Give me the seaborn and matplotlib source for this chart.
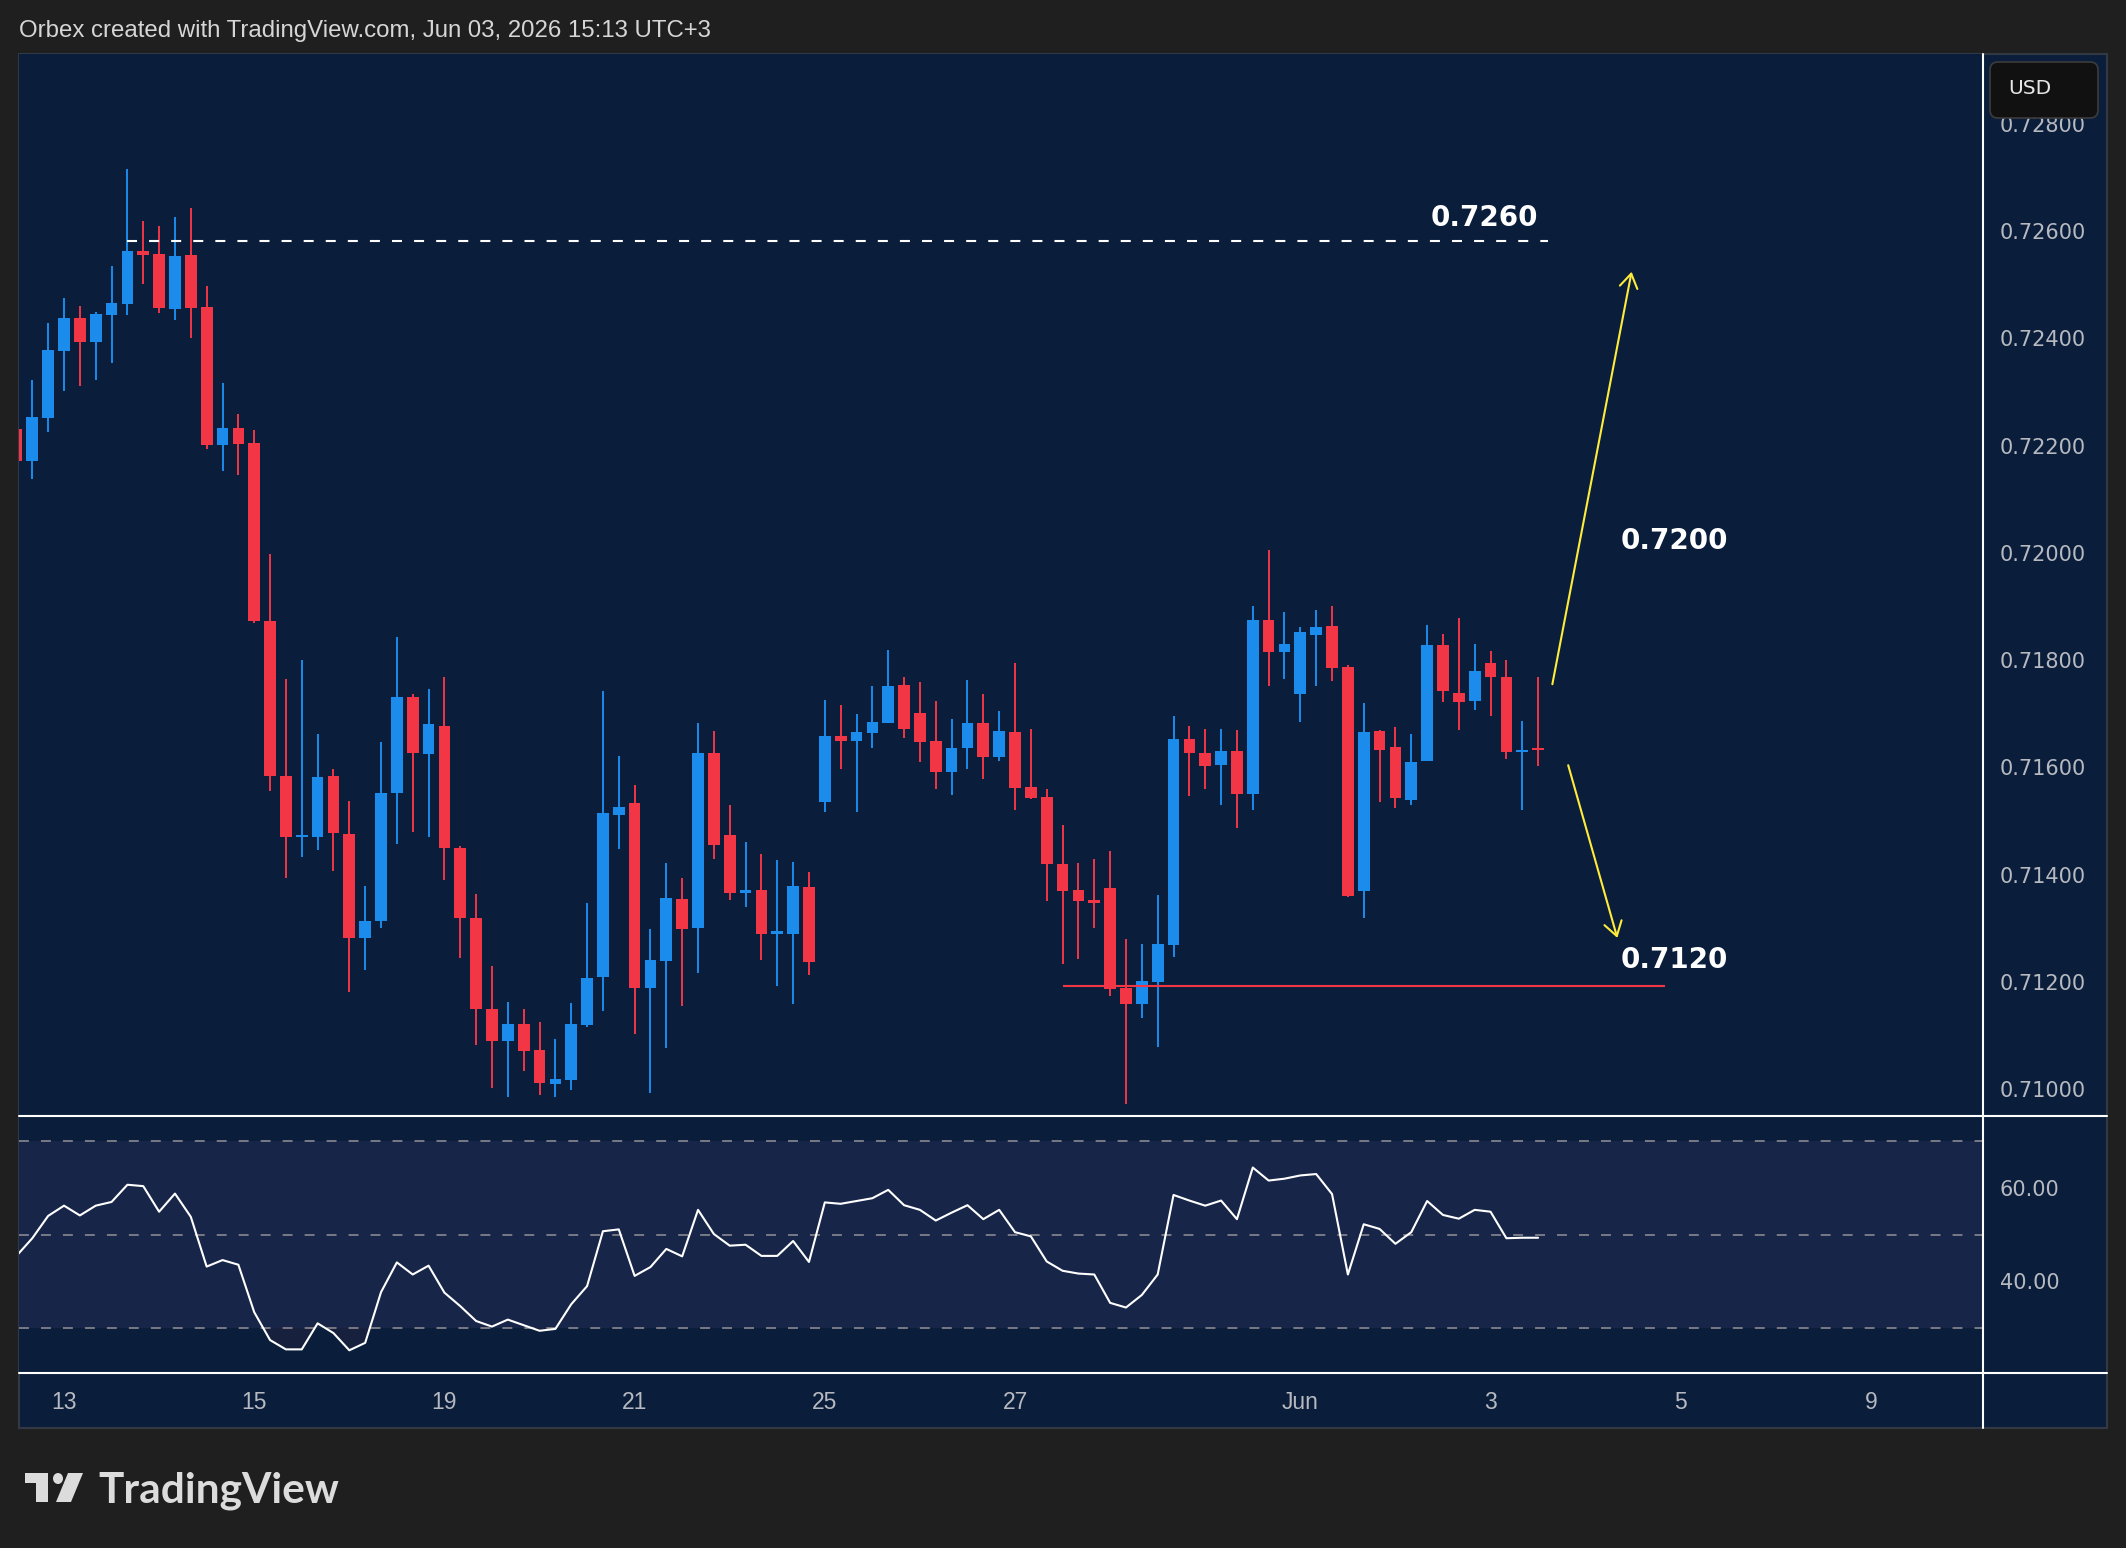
import numpy as np
import seaborn as sns
import matplotlib
matplotlib.use("Agg")
import matplotlib.pyplot as plt
from matplotlib import font_manager
from matplotlib.patches import Rectangle, FancyBboxPatch, Polygon, Ellipse

# 4H candles, bar 0 = May 13 00:00
bar_start = -3
opens = [0.72231, 0.72171, 0.72251, 0.72376, 0.72438, 0.72393, 0.72443, 0.72464, 0.72562, 0.72558,
         0.72455, 0.72555, 0.72459, 0.72201, 0.72232, 0.72204, 0.71872, 0.71583, 0.71471, 0.71471,
         0.71583, 0.71476, 0.71281, 0.71313, 0.71552, 0.71731, 0.71625, 0.71677, 0.71449, 0.71320,
         0.71150, 0.71089, 0.71122, 0.71073, 0.71010, 0.71017, 0.71120, 0.71210, 0.71512, 0.71533,
         0.71189, 0.71239, 0.71354, 0.71301, 0.71626, 0.71473, 0.71366, 0.71372, 0.71290, 0.71290,
         0.71377, 0.71535, 0.71658, 0.71649, 0.71664, 0.71682, 0.71753, 0.71701, 0.71649, 0.71591,
         0.71636, 0.71682, 0.71619, 0.71666, 0.71563, 0.71544, 0.71419, 0.71372, 0.71352, 0.71375,
         0.71189, 0.71159, 0.71200, 0.71269, 0.71653, 0.71627, 0.71605, 0.71630, 0.71551, 0.71875,
         0.71816, 0.71736, 0.71847, 0.71863, 0.71787, 0.71369, 0.71668, 0.71638, 0.71539, 0.71612,
         0.71828, 0.71739, 0.71724, 0.71794, 0.71769, 0.71629, 0.71637]
highs = [0.72240, 0.72322, 0.72428, 0.72475, 0.72460, 0.72449, 0.72534, 0.72716, 0.72618, 0.72609,
         0.72626, 0.72642, 0.72497, 0.72316, 0.72259, 0.72229, 0.71998, 0.71765, 0.71800, 0.71663,
         0.71597, 0.71537, 0.71378, 0.71647, 0.71843, 0.71737, 0.71746, 0.71769, 0.71453, 0.71364,
         0.71229, 0.71163, 0.71150, 0.71126, 0.71093, 0.71160, 0.71347, 0.71742, 0.71621, 0.71567,
         0.71298, 0.71421, 0.71393, 0.71682, 0.71668, 0.71530, 0.71461, 0.71438, 0.71427, 0.71423,
         0.71404, 0.71725, 0.71716, 0.71700, 0.71751, 0.71819, 0.71769, 0.71759, 0.71724, 0.71690,
         0.71763, 0.71737, 0.71705, 0.71794, 0.71671, 0.71560, 0.71493, 0.71422, 0.71429, 0.71444,
         0.71280, 0.71270, 0.71362, 0.71696, 0.71677, 0.71671, 0.71671, 0.71669, 0.71900, 0.72005,
         0.71890, 0.71861, 0.71893, 0.71900, 0.71790, 0.71720, 0.71669, 0.71675, 0.71662, 0.71866,
         0.71848, 0.71878, 0.71830, 0.71817, 0.71800, 0.71687, 0.71769]
lows = [0.72160, 0.72138, 0.72225, 0.72301, 0.72311, 0.72322, 0.72354, 0.72443, 0.72502, 0.72447,
        0.72434, 0.72400, 0.72194, 0.72152, 0.72145, 0.71869, 0.71555, 0.71393, 0.71432, 0.71445,
        0.71406, 0.71182, 0.71223, 0.71301, 0.71457, 0.71480, 0.71471, 0.71390, 0.71245, 0.71082,
        0.71003, 0.70985, 0.71034, 0.70990, 0.70985, 0.70999, 0.71116, 0.71146, 0.71448, 0.71103,
        0.70992, 0.71077, 0.71155, 0.71217, 0.71430, 0.71353, 0.71340, 0.71241, 0.71192, 0.71159,
        0.71213, 0.71517, 0.71597, 0.71517, 0.71637, 0.71682, 0.71655, 0.71610, 0.71560, 0.71548,
        0.71597, 0.71578, 0.71612, 0.71520, 0.71541, 0.71350, 0.71234, 0.71242, 0.71301, 0.71173,
        0.70973, 0.71133, 0.71079, 0.71247, 0.71547, 0.71559, 0.71529, 0.71487, 0.71521, 0.71752,
        0.71765, 0.71685, 0.71752, 0.71761, 0.71358, 0.71319, 0.71535, 0.71524, 0.71529, 0.71612,
        0.71722, 0.71669, 0.71707, 0.71696, 0.71616, 0.71521, 0.71603]
closes = [0.72171, 0.72253, 0.72378, 0.72438, 0.72393, 0.72446, 0.72466, 0.72562, 0.72556, 0.72456,
          0.72553, 0.72456, 0.72201, 0.72232, 0.72203, 0.71872, 0.71583, 0.71471, 0.71474, 0.71582,
          0.71478, 0.71281, 0.71313, 0.71552, 0.71731, 0.71626, 0.71681, 0.71449, 0.71320, 0.71150,
          0.71089, 0.71122, 0.71072, 0.71011, 0.71019, 0.71121, 0.71207, 0.71515, 0.71526, 0.71189,
          0.71241, 0.71356, 0.71299, 0.71626, 0.71455, 0.71366, 0.71372, 0.71290, 0.71294, 0.71379,
          0.71237, 0.71658, 0.71649, 0.71666, 0.71684, 0.71751, 0.71671, 0.71647, 0.71591, 0.71637,
          0.71682, 0.71619, 0.71668, 0.71562, 0.71543, 0.71419, 0.71369, 0.71350, 0.71348, 0.71186,
          0.71159, 0.71201, 0.71270, 0.71653, 0.71627, 0.71603, 0.71630, 0.71551, 0.71875, 0.71816,
          0.71830, 0.71852, 0.71861, 0.71786, 0.71360, 0.71666, 0.71633, 0.71542, 0.71610, 0.71828,
          0.71743, 0.71722, 0.71779, 0.71769, 0.71628, 0.71631, 0.71633]
rsi = [45.4, 49.2, 54.0, 56.2, 54.1, 56.2, 57.0, 60.7, 60.4, 54.9,
       58.8, 53.8, 43.1, 44.5, 43.5, 33.3, 27.3, 25.3, 25.3, 30.9,
       28.8, 25.1, 26.7, 37.6, 44.0, 41.4, 43.3, 37.5, 34.6, 31.4,
       30.2, 31.7, 30.5, 29.3, 29.7, 35.0, 38.9, 50.7, 51.1, 41.1,
       43.0, 46.9, 45.3, 55.3, 50.1, 47.6, 47.8, 45.4, 45.4, 48.6,
       44.1, 56.9, 56.6, 57.2, 57.8, 59.6, 56.3, 55.3, 53.0, 54.7,
       56.3, 53.3, 55.3, 50.5, 49.6, 44.2, 42.2, 41.6, 41.4, 35.3,
       34.3, 37.0, 41.4, 58.5, 57.3, 56.2, 57.3, 53.3, 64.4, 61.6,
       62.0, 62.7, 63.0, 58.7, 41.4, 52.2, 51.2, 48.0, 50.5, 57.2,
       54.2, 53.4, 55.3, 54.9, 49.2, 49.3, 49.3]

day_labels = ["13", "15", "19", "21", "25", "27", "Jun", "3", "5", "9"]
day_bars = [0, 12, 24, 36, 48, 60, 78, 90, 102, 114]
price_ticks = [0.710, 0.712, 0.714, 0.716, 0.718, 0.720, 0.722, 0.724, 0.726, 0.728]
rsi_ticks = [40, 60]
rsi_levels = [70, 50, 30]

resistance = 0.72581
resistance_span = (4, 93.6)
support = 0.71192
support_span = (63, 101)
level_labels = ["0.7260", "0.7200", "0.7120"]
level_label_x = [89.6, 101.6, 101.6]
level_label_y = [0.72624, 0.72022, 0.71241]
arrow_up = [(93.9, 0.71755), (98.9, 0.72524)]
arrow_down = [(94.9, 0.71604), (98.0, 0.71282)]

OUTER = "#1f1f1f"
PANEL = "#0a1e3b"
BAND = "#172548"
BLUE = "#1b8bec"
RED = "#f23645"
YELLOW = "#ffeb3b"
AXIS_TXT = "#b7b9c0"

W, H = 2126, 1548

sns.set_theme(style="dark")
installed = {f.name for f in font_manager.fontManager.ttflist}
UI_FONT = "Liberation Sans" if "Liberation Sans" in installed else "DejaVu Sans"
LOGO_FONT = "Lato" if "Lato" in installed else "DejaVu Sans"
plt.rcParams["font.family"] = ["DejaVu Sans"]

fig = plt.figure(figsize=(W / 100, H / 100), dpi=100, facecolor=OUTER)


def fbox(x0, y0, x1, y1):
    return [x0 / W, 1 - y1 / H, (x1 - x0) / W, (y1 - y0) / H]


# background frame (pixel coords)
bg = fig.add_axes([0, 0, 1, 1], zorder=-1)
bg.set_xlim(0, W)
bg.set_ylim(H, 0)
bg.axis("off")
bg.add_patch(Rectangle((19, 54), 2088, 1374, facecolor=PANEL, edgecolor="#343844", lw=1.5))

bars = np.arange(bar_start, bar_start + len(opens))
o = np.array(opens)
h = np.array(highs)
l = np.array(lows)
c = np.array(closes)
r = np.array(rsi)
xlim = (-2.84, 121.07)

# ---- price pane ----
ax = fig.add_axes(fbox(19, 54, 1983, 1116))
ax.set_facecolor(PANEL)
up = c >= o
cols = np.where(up, BLUE, RED)
ax.vlines(bars, l, h, colors=cols, linewidth=1.4, zorder=2)
body_lo = np.minimum(o, c)
body_h = np.abs(c - o)
min_h = 0.00003
body_lo = np.where(body_h < min_h, (o + c) / 2 - min_h / 2, body_lo)
body_h = np.maximum(body_h, min_h)
ax.bar(bars, body_h, bottom=body_lo, width=0.74, color=cols, linewidth=0, zorder=3)

ax.hlines(resistance, *resistance_span, colors="white", lw=1.5, linestyles=(0, (4.8, 5.8)), zorder=4)
ax.hlines(support, *support_span, colors=RED, lw=1.5, zorder=4)
for txt, tx, ty in zip(level_labels, level_label_x, level_label_y):
    ax.text(tx, ty, txt, ha="center", va="center", fontsize=20, fontweight="bold", color="white", zorder=5)
for start, tip in (arrow_up, arrow_down):
    ax.annotate("", xy=tip, xytext=start,
                arrowprops=dict(arrowstyle="->,head_length=0.5,head_width=0.32", color=YELLOW,
                                lw=1.5, shrinkA=0, shrinkB=0, mutation_scale=20), zorder=5)

ax.set_xlim(*xlim)
ax.set_ylim(0.70950, 0.72930)
ax.set_xticks([])
ax.yaxis.tick_right()
ax.set_yticks(price_ticks)
ax.set_yticklabels([f"{v:.5f}" for v in price_ticks])
ax.tick_params(axis="y", length=0, pad=12, labelsize=15, labelcolor=AXIS_TXT)
for s in ax.spines.values():
    s.set_visible(False)
ax.grid(False)

# ---- RSI pane ----
ax_rsi = fig.add_axes(fbox(19, 1116, 1983, 1373))
ax_rsi.set_facecolor(PANEL)
ax_rsi.axhspan(30, 70, color=BAND, lw=0, zorder=0)
for lv in rsi_levels:
    ax_rsi.axhline(lv, color="#787b86", lw=1.4, ls=(0, (5.1, 6.2)), zorder=1)
ax_rsi.fill_between(bars, r, 30, where=r < 30, interpolate=True, color="#b03a5a", alpha=0.08, lw=0, zorder=1)
sns.lineplot(x=bars, y=r, ax=ax_rsi, color="white", lw=1.5, zorder=3)
ax_rsi.set_xlim(*xlim)
ax_rsi.set_ylim(20.22, 75.48)
ax_rsi.yaxis.tick_right()
ax_rsi.set_yticks(rsi_ticks)
ax_rsi.set_yticklabels([f"{v:.2f}" for v in rsi_ticks])
ax_rsi.tick_params(axis="y", length=0, pad=12, labelsize=15, labelcolor=AXIS_TXT)
ax_rsi.set_xticks(day_bars)
ax_rsi.set_xticklabels(day_labels, family=UI_FONT)
ax_rsi.tick_params(axis="x", length=0, pad=13, labelsize=16.5, labelcolor=AXIS_TXT)
ax_rsi.set_xlabel("")
ax_rsi.set_ylabel("")
for s in ax_rsi.spines.values():
    s.set_visible(False)
ax_rsi.grid(False)

# ---- overlay: separators, currency box, header, logo ----
ov = fig.add_axes([0, 0, 1, 1], zorder=6)
ov.set_xlim(0, W)
ov.set_ylim(H, 0)
ov.axis("off")
ov.plot([19, 2107], [1116, 1116], color="white", lw=1.5)
ov.plot([19, 2107], [1373, 1373], color="white", lw=1.5)
ov.plot([1983, 1983], [54, 1428], color="white", lw=1.5)
ov.add_patch(FancyBboxPatch((1990, 62), 108, 56, boxstyle="round,pad=0,rounding_size=8",
                            facecolor="#111111", edgecolor="#3c3c3c", lw=1.2))
ov.text(2030, 89, "USD", ha="center", va="center", fontsize=14.5, color="#e6e6e6")

ov.text(19, 31, "Orbex created with TradingView.com, Jun 03, 2026 15:13 UTC+3", ha="left", va="center",
        fontsize=17.3, color="#d6d6d6", family=UI_FONT)

logo_c = "#dcdcdc"
ov.add_patch(Rectangle((25, 1473), 23, 10, color=logo_c, lw=0))
ov.add_patch(Rectangle((36, 1473), 12, 29, color=logo_c, lw=0))
ov.add_patch(Ellipse((58, 1478.5), 10, 11, color=logo_c, lw=0))
ov.add_patch(Polygon([(68, 1473), (83, 1473), (71, 1502), (56, 1502)], closed=True, color=logo_c, lw=0))
ov.text(98, 1502, "TradingView", ha="left", va="baseline", fontsize=30.5, fontweight="bold",
        color=logo_c, family=LOGO_FONT)

fig.savefig("out.png", dpi=100, facecolor=OUTER)
